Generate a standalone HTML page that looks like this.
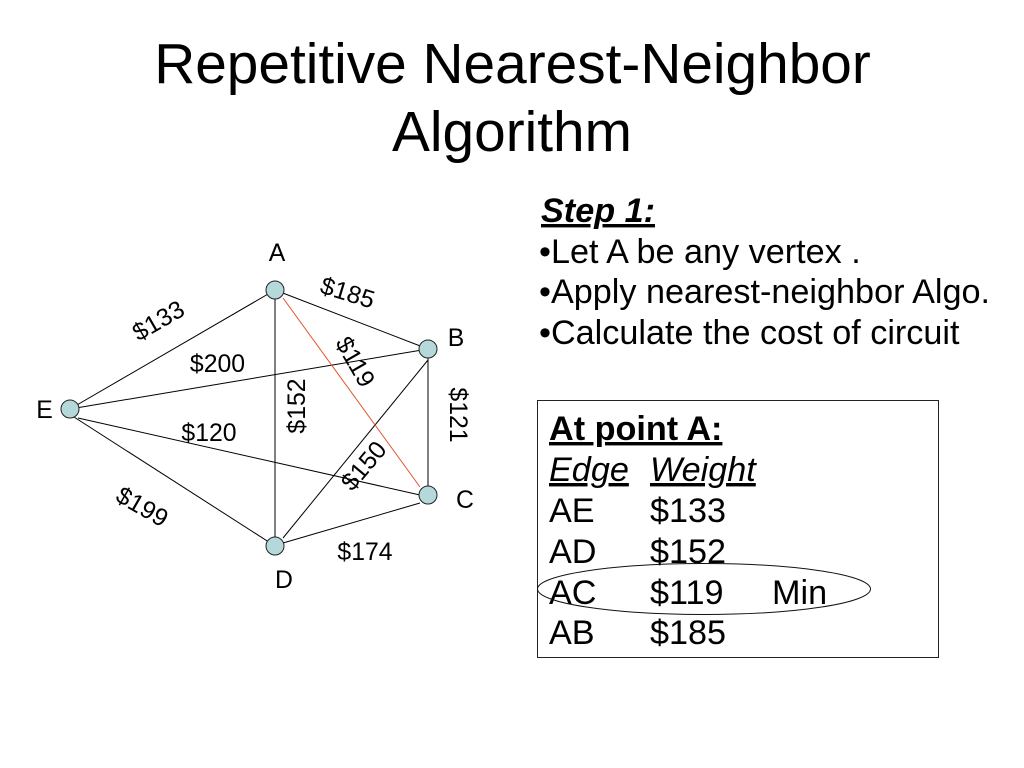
<!DOCTYPE html>
<html><head><meta charset="utf-8"><style>
html,body{margin:0;padding:0;background:#fff;width:1024px;height:768px;overflow:hidden}
svg{display:block}
text{font-family:"Liberation Sans",sans-serif;fill:#000}
.t{font-size:56.8px;text-anchor:middle}
.b{font-size:34.2px}
.l{font-size:24.8px;text-anchor:middle}
.u{text-decoration:underline}
</style></head><body>
<svg width="1024" height="768" viewBox="0 0 1024 768" xmlns="http://www.w3.org/2000/svg">
<text class="t" x="512.5" y="83">Repetitive Nearest-Neighbor</text>
<text class="t" x="512" y="151">Algorithm</text>

<g stroke="#000" stroke-width="1" fill="none">
<line x1="70" y1="409" x2="275" y2="290"/>
<line x1="70" y1="409" x2="428" y2="349"/>
<line x1="78" y1="418" x2="420" y2="495"/>
<line x1="74" y1="417" x2="275" y2="546"/>
<line x1="275" y1="290" x2="275" y2="546"/>
<line x1="275" y1="290" x2="428" y2="349"/>
<line x1="428" y1="349" x2="428" y2="495"/>
<line x1="428" y1="360" x2="283" y2="538"/>
<line x1="283" y1="543" x2="420" y2="503"/>
</g>
<line x1="283" y1="298" x2="420" y2="487" stroke="#e2532a" stroke-width="1"/>
<g fill="#b5d8da" stroke="#222" stroke-width="1">
<circle cx="275" cy="290" r="9"/>
<circle cx="428" cy="349" r="9"/>
<circle cx="428" cy="495" r="9"/>
<circle cx="275" cy="546" r="9"/>
<circle cx="70" cy="409" r="9"/>
</g>

<text class="l" x="277" y="261">A</text>
<text class="l" x="456" y="346">B</text>
<text class="l" x="465" y="508">C</text>
<text class="l" x="284" y="588">D</text>
<text class="l" x="44.5" y="418">E</text>

<text class="l" x="217.5" y="372">$200</text>
<text class="l" x="209" y="441">$120</text>
<text class="l" x="365" y="560">$174</text>
<text class="l" transform="translate(158.5,321) rotate(-30)" y="8">$133</text>
<text class="l" transform="translate(347.5,293) rotate(17)" y="8">$185</text>
<text class="l" transform="translate(355,362) rotate(60)" y="8">$119</text>
<text class="l" transform="translate(297,406) rotate(-90)" y="8">$152</text>
<text class="l" transform="translate(458,415) rotate(90)" y="8">$121</text>
<text class="l" transform="translate(364,466) rotate(-50)" y="8">$150</text>
<text class="l" transform="translate(142,507) rotate(30)" y="8">$199</text>

<text class="b u" x="541" y="222" font-weight="bold" font-style="italic">Step 1:</text>
<text class="b" x="539" y="263">•Let A be any vertex .</text>
<text class="b" x="539" y="303">•Apply nearest-neighbor Algo.</text>
<text class="b" x="539" y="344">•Calculate the cost of circuit</text>

<rect x="537.5" y="400.5" width="401" height="257" fill="none" stroke="#222" stroke-width="1"/>
<text class="b u" x="549" y="440" font-weight="bold">At point A:</text>
<text class="b u" x="549" y="481" font-style="italic">Edge</text>
<text class="b u" x="650" y="481" font-style="italic">Weight</text>
<text class="b" x="549" y="522">AE</text><text class="b" x="650" y="522">$133</text>
<text class="b" x="549" y="563">AD</text><text class="b" x="650" y="563">$152</text>
<text class="b" x="549" y="604">AC</text><text class="b" x="650" y="604">$119</text><text class="b" x="772" y="604">Min</text>
<text class="b" x="549" y="644">AB</text><text class="b" x="650" y="644">$185</text>
<ellipse cx="704" cy="589" rx="166.5" ry="25.5" fill="none" stroke="#111" stroke-width="1"/>
</svg>
</body></html>
